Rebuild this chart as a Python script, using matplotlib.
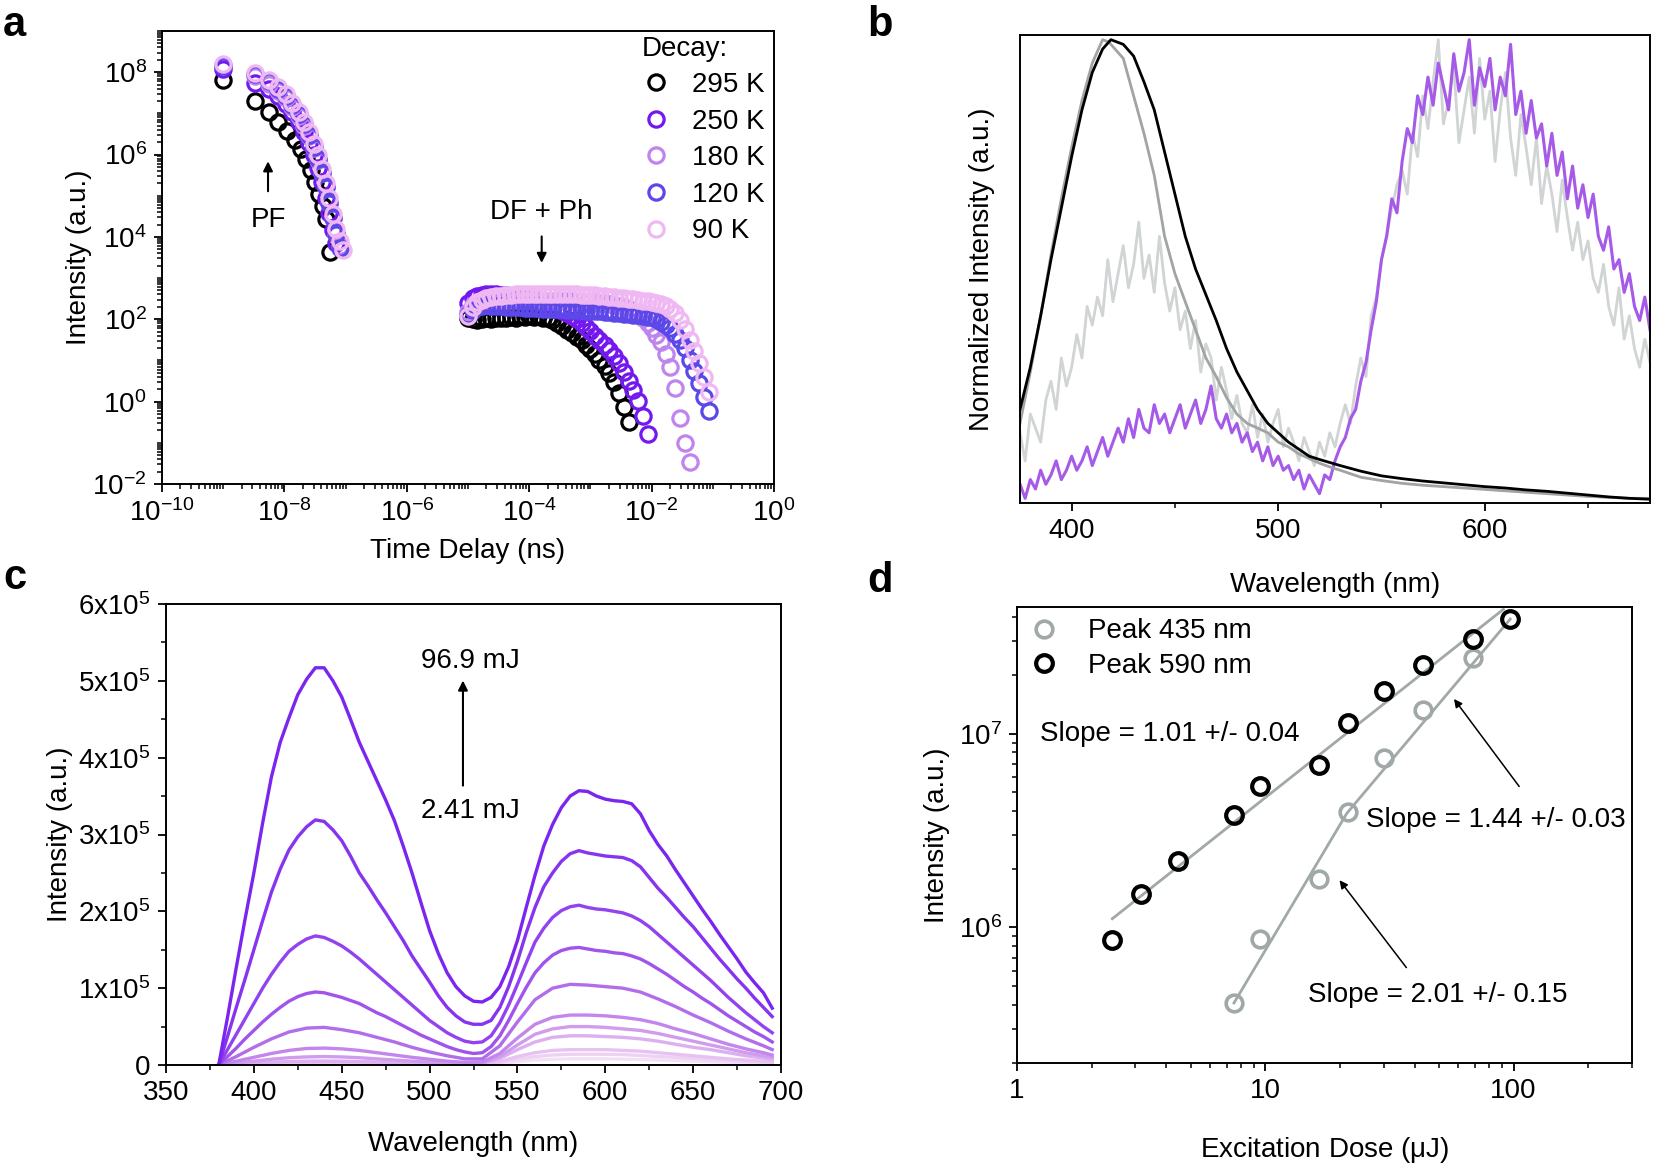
import numpy as np
import matplotlib
matplotlib.use("Agg")
import matplotlib.pyplot as plt
from matplotlib.ticker import LogLocator, MultipleLocator, NullFormatter, LogFormatterMathtext, FixedLocator, FixedFormatter

plt.rcParams['font.family'] = ['Liberation Sans', 'DejaVu Sans']
plt.rcParams['mathtext.default'] = 'regular'
plt.rcParams['axes.unicode_minus'] = False
plt.rcParams['font.size'] = 20

# ---------------- panel a: decay vs temperature ----------------
temps = ['295 K', '250 K', '180 K', '120 K', '90 K']
temp_colors = ['#000000', '#7418f0', '#c084ee', '#5c48e8', '#f0b8f2']

t_pf_295 = [1.0e-9, 3.3e-9, 5.5e-9, 7.8e-9, 1.1e-8, 1.47e-8, 1.86e-8, 2.25e-8, 2.72e-8, 3.2e-8,
            3.7e-8, 4.2e-8, 4.85e-8, 5.65e-8]
t_pf_cold = [1.0e-9, 3.3e-9, 5.5e-9, 7.8e-9, 1.05e-8, 1.35e-8, 1.7e-8, 2.1e-8, 2.5e-8, 3.0e-8,
             3.5e-8, 4.1e-8, 4.7e-8, 5.4e-8, 6.2e-8, 7.1e-8, 8.1e-8, 9.2e-8]
pf_295 = [6.5e7, 2.0e7, 1.1e7, 6.3e6, 3.8e6, 2.3e6, 1.4e6, 7.9e5, 4.1e5, 2.2e5, 1.1e5, 5.7e4, 2.7e4, 4.3e3]
pf_250 = [1.2e8, 5.5e7, 3.8e7, 2.6e7, 1.7e7, 1.05e7, 6.2e6, 3.5e6, 1.9e6, 9.5e5, 4.7e5, 2.1e5, 9.0e4,
          3.8e4, 1.5e4, 7.0e3]
pf_180 = [1.5e8, 8.0e7, 5.2e7, 3.5e7, 2.3e7, 1.45e7, 8.8e6, 5.0e6, 2.8e6, 1.45e6, 7.5e5, 3.5e5, 1.6e5,
          6.8e4, 2.8e4, 1.2e4, 6.0e3]
pf_120 = [1.4e8, 9.0e7, 6.0e7, 4.0e7, 2.6e7, 1.6e7, 9.5e6, 5.5e6, 3.0e6, 1.55e6, 7.8e5, 3.6e5, 1.6e5,
          6.8e4, 2.8e4, 1.2e4, 5.5e3]
pf_90 = [1.6e8, 9.5e7, 6.5e7, 4.4e7, 2.9e7, 1.8e7, 1.1e7, 6.3e6, 3.5e6, 1.85e6, 9.5e5, 4.5e5, 2.0e5,
         8.8e4, 3.7e4, 1.6e4, 8.0e3, 4.8e3]

t_df = [1.0e-5, 1.2e-5, 1.4e-5, 1.7e-5, 2.0e-5, 2.4e-5, 2.9e-5, 3.5e-5, 4.2e-5, 5.0e-5,
        6.0e-5, 7.2e-5, 8.6e-5, 1.0e-4, 1.2e-4, 1.4e-4, 1.7e-4, 2.0e-4, 2.4e-4, 2.9e-4,
        3.5e-4, 4.2e-4, 5.0e-4, 6.0e-4, 7.2e-4, 8.6e-4, 1.0e-3, 1.2e-3, 1.4e-3, 1.7e-3,
        2.0e-3, 2.4e-3, 2.9e-3, 3.5e-3, 4.2e-3, 5.0e-3, 6.0e-3, 7.2e-3, 8.6e-3, 1.0e-2,
        1.2e-2, 1.4e-2, 1.7e-2, 2.0e-2, 2.4e-2, 2.9e-2, 3.5e-2, 4.2e-2, 5.0e-2, 6.0e-2,
        7.2e-2, 8.6e-2, 1.0e-1]
df_295 = [110, 100, 95, 100, 105, 100, 110, 105, 110, 115,
          110, 120, 115, 120, 115, 118, 110, 105, 95, 82,
          68, 56, 46, 38, 31, 24, 19, 14.5, 10.5, 7.5,
          5.0, 3.0, 1.6, 0.75, 0.32]
df_250 = [250, 320, 360, 380, 400, 410, 400, 390, 380, 370,
          360, 350, 330, 300, 280, 260, 240, 220, 200, 180,
          160, 140, 120, 100, 82, 66, 52, 40, 32, 24,
          18, 13, 8.5, 5.2, 3.2, 1.9, 1.05, 0.45, 0.16]
df_180 = [150, 220, 260, 280, 290, 295, 300, 300, 300, 298,
          296, 294, 292, 290, 288, 286, 284, 282, 280, 278,
          276, 274, 272, 270, 268, 265, 262, 258, 254, 248,
          240, 228, 212, 195, 175, 155, 130, 105, 82, 62,
          42, 28, 14, 7, 2.2, 0.4, 0.1, 0.035]
df_120 = [130, 170, 200, 210, 220, 215, 210, 205, 200, 200,
          195, 195, 190, 190, 185, 185, 180, 180, 178, 175,
          175, 172, 170, 168, 165, 162, 160, 158, 155, 152,
          150, 146, 142, 138, 133, 128, 124, 120, 116, 115,
          100, 88, 74, 60, 45, 32, 20, 10.5, 5.5, 2.8,
          1.3, 0.6]
df_90 = [120, 200, 260, 300, 320, 340, 360, 370, 380, 390,
         400, 405, 410, 415, 420, 420, 420, 420, 418, 415,
         412, 410, 405, 400, 395, 390, 385, 378, 370, 362,
         355, 345, 335, 325, 315, 305, 295, 285, 275, 265,
         250, 235, 210, 180, 140, 95, 58, 32, 17, 8.5,
         4.0, 1.7]

# ---------------- panel b: normalised spectra ----------------
wl_b_black = [375, 380, 385, 390, 395, 400, 405, 410, 415, 419, 425, 430, 435, 440, 445, 450, 455, 460,
              465, 470, 475, 480, 485, 490, 495, 500, 505, 510, 515, 520, 530, 540, 550, 560, 570, 580,
              590, 600, 610, 620, 630, 640, 650, 660, 670, 680]
b_black = [0.20, 0.29, 0.40, 0.52, 0.63, 0.74, 0.84, 0.92, 0.97, 0.99, 0.98, 0.955, 0.90, 0.84, 0.75,
           0.66, 0.57, 0.50, 0.445, 0.39, 0.33, 0.28, 0.24, 0.20, 0.17, 0.15, 0.13, 0.115, 0.10, 0.093,
           0.08, 0.068, 0.058, 0.052, 0.047, 0.043, 0.039, 0.035, 0.032, 0.028, 0.025, 0.021, 0.017,
           0.013, 0.010, 0.008]
wl_b_gray = [375, 380, 385, 390, 395, 400, 405, 410, 415, 418, 420, 425, 430, 435, 440, 445, 450, 455,
             460, 465, 470, 475, 480, 485, 490, 495, 500, 505, 510, 515, 520, 525, 530, 540, 550, 560,
             570, 580, 590, 600, 610, 620, 630, 640, 650, 660, 670, 680]
b_gray = [0.17, 0.28, 0.40, 0.53, 0.65, 0.76, 0.86, 0.94, 0.99, 0.985, 0.975, 0.95, 0.87, 0.79, 0.70,
          0.57, 0.49, 0.43, 0.37, 0.31, 0.27, 0.225, 0.19, 0.17, 0.16, 0.15, 0.13, 0.12, 0.105, 0.095,
          0.085, 0.077, 0.07, 0.055, 0.048, 0.042, 0.038, 0.035, 0.032, 0.029, 0.026, 0.023, 0.020,
          0.017, 0.014, 0.012, 0.010, 0.010]
wl_b_noisy = np.arange(375, 681, 2.5)
b_lightgray = [0.15, 0.09, 0.19, 0.16, 0.13, 0.22, 0.26, 0.20, 0.31, 0.25,
               0.29, 0.36, 0.31, 0.42, 0.38, 0.44, 0.40, 0.52, 0.43, 0.49,
               0.55, 0.46, 0.51, 0.60, 0.48, 0.53, 0.45, 0.57, 0.47, 0.41,
               0.46, 0.37, 0.41, 0.33, 0.39, 0.28, 0.34, 0.31, 0.22, 0.29,
               0.24, 0.18, 0.23, 0.17, 0.15, 0.21, 0.14, 0.19, 0.13, 0.17,
               0.20, 0.12, 0.16, 0.13, 0.09, 0.14, 0.11, 0.08, 0.13, 0.10,
               0.15, 0.12, 0.17, 0.21, 0.17, 0.25, 0.31, 0.27, 0.40, 0.44,
               0.52, 0.57, 0.63, 0.68, 0.71, 0.66, 0.79, 0.74, 0.87, 0.80,
               0.90, 0.99, 0.81, 0.86, 0.93, 0.77, 0.84, 0.91, 0.79, 0.95,
               0.82, 0.88, 0.73, 0.84, 0.92, 0.78, 0.70, 0.83, 0.76, 0.68,
               0.78, 0.64, 0.72, 0.66, 0.58, 0.69, 0.61, 0.54, 0.60, 0.52,
               0.56, 0.48, 0.45, 0.51, 0.42, 0.38, 0.46, 0.35, 0.40, 0.33,
               0.29, 0.35, 0.30]
b_purple = [0.04, 0.01, 0.05, 0.03, 0.07, 0.04, 0.06, 0.09, 0.05, 0.07,
            0.10, 0.07, 0.09, 0.12, 0.08, 0.11, 0.14, 0.10, 0.13, 0.16,
            0.13, 0.18, 0.14, 0.20, 0.16, 0.15, 0.21, 0.17, 0.19, 0.15,
            0.18, 0.21, 0.16, 0.19, 0.22, 0.17, 0.20, 0.25, 0.18, 0.16,
            0.19, 0.15, 0.17, 0.13, 0.15, 0.11, 0.13, 0.09, 0.12, 0.08,
            0.10, 0.07, 0.08, 0.05, 0.07, 0.03, 0.06, 0.04, 0.02, 0.06,
            0.05, 0.09, 0.12, 0.14, 0.18, 0.20, 0.26, 0.30, 0.37, 0.43,
            0.52, 0.57, 0.65, 0.62, 0.73, 0.80, 0.77, 0.87, 0.83, 0.91,
            0.85, 0.94, 0.89, 0.84, 0.96, 0.88, 0.92, 0.99, 0.85, 0.93,
            0.89, 0.95, 0.84, 0.91, 0.87, 0.98, 0.83, 0.88, 0.79, 0.86,
            0.78, 0.81, 0.72, 0.79, 0.70, 0.75, 0.65, 0.72, 0.63, 0.68,
            0.61, 0.66, 0.57, 0.54, 0.59, 0.50, 0.52, 0.45, 0.49, 0.42,
            0.39, 0.44, 0.37]

# ---------------- panel c: spectra vs excitation dose (units of 1e5) ----------------
# low-dose spectra, 10 nm sampling
wl_c = [380, 390, 400, 410, 420, 430, 440, 450, 460, 470, 480, 490, 500, 510, 520, 530, 540,
        550, 560, 570, 580, 590, 600, 610, 620, 630, 640, 650, 660, 670, 680, 690, 695]
spectra_c_low = [
    [0, 0.002, 0.004, 0.005, 0.006, 0.007, 0.007, 0.007, 0.006, 0.005, 0.005, 0.004, 0.003, 0.003, 0.003,
     0.005, 0.018, 0.043, 0.065, 0.075, 0.08, 0.08, 0.08, 0.077, 0.072, 0.065, 0.057, 0.05, 0.042, 0.035,
     0.028, 0.022, 0.018],
    [0, 0.003, 0.006, 0.009, 0.012, 0.013, 0.013, 0.012, 0.011, 0.01, 0.008, 0.006, 0.005, 0.004, 0.004,
     0.008, 0.03, 0.075, 0.11, 0.13, 0.14, 0.14, 0.14, 0.135, 0.125, 0.11, 0.10, 0.085, 0.07, 0.057,
     0.045, 0.035, 0.03],
    [0, 0.005, 0.01, 0.015, 0.02, 0.022, 0.022, 0.02, 0.018, 0.016, 0.013, 0.01, 0.008, 0.006, 0.006,
     0.012, 0.045, 0.11, 0.16, 0.19, 0.20, 0.20, 0.20, 0.19, 0.18, 0.16, 0.14, 0.12, 0.10, 0.08, 0.065,
     0.05, 0.04],
    [0, 0.012, 0.025, 0.037, 0.045, 0.05, 0.052, 0.05, 0.045, 0.04, 0.033, 0.026, 0.02, 0.014, 0.012,
     0.02, 0.085, 0.20, 0.30, 0.36, 0.38, 0.38, 0.37, 0.36, 0.34, 0.31, 0.27, 0.23, 0.20, 0.16, 0.12,
     0.09, 0.075],
    [0, 0.025, 0.05, 0.075, 0.095, 0.105, 0.11, 0.105, 0.095, 0.08, 0.065, 0.05, 0.038, 0.025, 0.018,
     0.025, 0.11, 0.26, 0.40, 0.47, 0.50, 0.50, 0.49, 0.47, 0.45, 0.41, 0.36, 0.31, 0.26, 0.21, 0.16,
     0.12, 0.10],
    [0, 0.05, 0.10, 0.15, 0.19, 0.215, 0.22, 0.21, 0.19, 0.16, 0.13, 0.10, 0.075, 0.05, 0.035, 0.04,
     0.15, 0.35, 0.53, 0.62, 0.65, 0.65, 0.64, 0.62, 0.59, 0.54, 0.47, 0.41, 0.34, 0.27, 0.21, 0.16, 0.13],
    [0, 0.11, 0.23, 0.34, 0.43, 0.48, 0.49, 0.46, 0.42, 0.36, 0.30, 0.23, 0.17, 0.12, 0.08, 0.08, 0.25,
     0.56, 0.85, 1.00, 1.05, 1.04, 1.02, 1.00, 0.95, 0.86, 0.76, 0.65, 0.55, 0.44, 0.34, 0.25, 0.20],
]
# high-dose spectra, 5 nm sampling
wl_c5 = np.arange(380, 696, 5)
spectra_c_high = [
    [0, 0.11, 0.22, 0.34, 0.45, 0.56, 0.66, 0.75, 0.83, 0.89,
     0.93, 0.95, 0.94, 0.91, 0.88, 0.84, 0.80, 0.74, 0.68, 0.63,
     0.57, 0.51, 0.45, 0.39, 0.34, 0.29, 0.24, 0.20, 0.17, 0.15,
     0.16, 0.24, 0.38, 0.58, 0.80, 1.01, 1.20, 1.33, 1.43, 1.49,
     1.52, 1.53, 1.51, 1.49, 1.48, 1.46, 1.45, 1.42, 1.38, 1.32,
     1.25, 1.18, 1.10, 1.02, 0.95, 0.87, 0.80, 0.72, 0.64, 0.57,
     0.50, 0.43, 0.37, 0.30],
    [0, 0.20, 0.40, 0.60, 0.80, 1.00, 1.18, 1.34, 1.48, 1.57,
     1.64, 1.68, 1.66, 1.61, 1.55, 1.47, 1.38, 1.28, 1.18, 1.08,
     0.98, 0.88, 0.78, 0.68, 0.58, 0.50, 0.42, 0.36, 0.31, 0.29,
     0.30, 0.38, 0.55, 0.78, 1.05, 1.33, 1.60, 1.78, 1.92, 2.01,
     2.06, 2.08, 2.05, 2.03, 2.02, 2.00, 1.98, 1.94, 1.88, 1.80,
     1.70, 1.60, 1.50, 1.40, 1.30, 1.20, 1.10, 0.99, 0.88, 0.78,
     0.68, 0.59, 0.50, 0.42],
    [0, 0.37, 0.75, 1.12, 1.50, 1.88, 2.25, 2.55, 2.80, 2.97,
     3.10, 3.19, 3.17, 3.06, 2.92, 2.72, 2.50, 2.33, 2.15, 1.98,
     1.80, 1.62, 1.42, 1.25, 1.08, 0.90, 0.75, 0.64, 0.56, 0.53,
     0.53, 0.58, 0.75, 1.02, 1.35, 1.72, 2.05, 2.32, 2.50, 2.65,
     2.75, 2.79, 2.76, 2.74, 2.72, 2.71, 2.70, 2.66, 2.58, 2.44,
     2.30, 2.18, 2.05, 1.92, 1.80, 1.66, 1.52, 1.38, 1.25, 1.12,
     1.00, 0.87, 0.75, 0.63],
    [0, 0.62, 1.27, 1.90, 2.50, 3.15, 3.75, 4.20, 4.52, 4.82,
     5.02, 5.17, 5.17, 5.00, 4.79, 4.50, 4.20, 3.95, 3.70, 3.45,
     3.18, 2.85, 2.50, 2.12, 1.75, 1.45, 1.20, 1.02, 0.90, 0.83,
     0.82, 0.88, 1.02, 1.28, 1.62, 2.05, 2.47, 2.85, 3.13, 3.35,
     3.50, 3.57, 3.56, 3.50, 3.46, 3.44, 3.43, 3.40, 3.27, 3.05,
     2.87, 2.72, 2.54, 2.37, 2.20, 2.03, 1.87, 1.70, 1.54, 1.38,
     1.21, 1.07, 0.94, 0.74],
]
colors_c_low = ['#f4e0f6', '#eed2f4', '#e6c2f2', '#dcb0f0', '#d09cee', '#c286ec', '#b26eea']
colors_c_high = ['#a054ec', '#9242ee', '#8634f0', '#7a26f0']
c_ticklabels = ['0', '1x10$^5$', '2x10$^5$', '3x10$^5$', '4x10$^5$', '5x10$^5$', '6x10$^5$']

# ---------------- panel d: peak intensity vs dose ----------------
dose_590 = [2.41, 3.15, 4.45, 7.5, 9.5, 16.4, 21.5, 30.0, 43.3, 68.5, 96.9]
peak_590 = [8.6e5, 1.49e6, 2.2e6, 3.79e6, 5.36e6, 6.9e6, 1.13e7, 1.66e7, 2.27e7, 3.07e7, 3.91e7]
dose_435 = [7.5, 9.5, 16.4, 21.5, 30.0, 43.3, 68.5]
peak_435 = [4.08e5, 8.75e5, 1.78e6, 3.96e6, 7.48e6, 1.32e7, 2.47e7]
fit590_x = [2.42, 91.0]
fit590_y = [1.11e6, 4.38e7]
fit435_x = [7.48, 21.3, 97.0]
fit435_y = [4.08e5, 3.88e6, 3.9e7]

W, H = 1654, 1165
fig = plt.figure(figsize=(W / 100, H / 100), dpi=100)


def box(l, t, r, b):
    return [l / W, 1 - b / H, (r - l) / W, (b - t) / H]


def style(ax):
    for s in ax.spines.values():
        s.set_linewidth(1.4)
    ax.tick_params(which='major', direction='out', length=6, width=1.3, labelsize=20, pad=5)
    ax.tick_params(which='minor', direction='out', length=3.5, width=1.1)
    ax.tick_params(top=False, right=False)


# ---- a ----
axa = fig.add_axes(box(162, 31, 774, 484))
pf_sets = [(t_pf_295, pf_295), (t_pf_cold[:16], pf_250), (t_pf_cold[:17], pf_180),
           (t_pf_cold[:17], pf_120), (t_pf_cold, pf_90)]
df_sets = [df_295, df_250, df_180, df_120, df_90]
for name, col, (tp, ip), idf in zip(temps, temp_colors, pf_sets, df_sets):
    kw = dict(ls='none', marker='o', ms=11, mfc='none', mec=col, mew=2.3)
    axa.plot(tp, ip, label=name, **kw)
    axa.plot(t_df[:len(idf)], idf, **kw)
axa.set_xscale('log')
axa.set_yscale('log')
axa.set_xlim(1e-10, 1)
axa.set_ylim(1e-2, 1e9)
axa.xaxis.set_major_locator(FixedLocator([1e-10, 1e-8, 1e-6, 1e-4, 1e-2, 1]))
axa.xaxis.set_major_formatter(LogFormatterMathtext())
axa.xaxis.set_minor_locator(LogLocator(base=10, subs=np.arange(1, 10), numticks=100))
axa.xaxis.set_minor_formatter(NullFormatter())
axa.yaxis.set_major_locator(FixedLocator([1e-2, 1, 1e2, 1e4, 1e6, 1e8]))
axa.yaxis.set_major_formatter(LogFormatterMathtext())
axa.yaxis.set_minor_locator(LogLocator(base=10, subs=np.arange(1, 10), numticks=100))
axa.yaxis.set_minor_formatter(NullFormatter())
style(axa)
axa.set_xlabel('Time Delay (ns)', fontsize=20, labelpad=8)
axa.set_ylabel('Intensity (a.u.)', fontsize=20, labelpad=0)
axa.text(5.5e-9, 2.6e4, 'PF', fontsize=20, ha='center', va='center')
axa.annotate('', xy=(5.4e-9, 8e5), xytext=(5.4e-9, 1.1e5),
             arrowprops=dict(arrowstyle='-|>', color='k', lw=1.5, mutation_scale=14))
axa.text(1.6e-4, 4e4, 'DF + Ph', fontsize=20, ha='center', va='center')
axa.annotate('', xy=(1.6e-4, 2.0e3), xytext=(1.6e-4, 1.2e4),
             arrowprops=dict(arrowstyle='-|>', color='k', lw=1.5, mutation_scale=14))
axa.legend(loc='upper left', bbox_to_anchor=(0.784, 0.99), frameon=False, title='Decay:',
           title_fontsize=20, fontsize=20, alignment='left', borderpad=0, borderaxespad=0,
           handlelength=1.0, handletextpad=0.8, labelspacing=0.38)

# ---- b ----
axb = fig.add_axes(box(1020, 35, 1650, 503))
axb.plot(wl_b_noisy, b_lightgray, color='#d0d4d4', lw=2.0)
axb.plot(wl_b_noisy, b_purple, color='#a65ae8', lw=2.2)
axb.plot(wl_b_gray, b_gray, color='#a0a4a4', lw=2.0)
axb.plot(wl_b_black, b_black, color='#000000', lw=2.0)
axb.set_xlim(375, 680)
axb.set_ylim(0, 1)
axb.xaxis.set_major_locator(MultipleLocator(100))
axb.xaxis.set_minor_locator(MultipleLocator(50))
axb.set_yticks([])
style(axb)
axb.set_xlabel('Wavelength (nm)', fontsize=20, labelpad=20)
axb.set_ylabel('Normalized Intensity (a.u.)', fontsize=20, labelpad=18)

# ---- c ----
axc = fig.add_axes(box(166, 604, 781, 1065))
for spec, col in zip(spectra_c_low, colors_c_low):
    axc.plot(wl_c, spec, color=col, lw=2.4)
for spec, col in zip(spectra_c_high, colors_c_high):
    axc.plot(wl_c5, spec, color=col, lw=2.4)
axc.set_xlim(350, 700)
axc.set_ylim(0, 6)
axc.xaxis.set_major_locator(MultipleLocator(50))
axc.xaxis.set_minor_locator(MultipleLocator(25))
axc.yaxis.set_major_locator(FixedLocator([0, 1, 2, 3, 4, 5, 6]))
axc.yaxis.set_major_formatter(FixedFormatter(c_ticklabels))
axc.yaxis.set_minor_locator(MultipleLocator(0.5))
style(axc)
axc.set_xlabel('Wavelength (nm)', fontsize=20, labelpad=18)
axc.set_ylabel('Intensity (a.u.)', fontsize=20, labelpad=4)
axc.text(523, 5.26, '96.9 mJ', fontsize=20, ha='center', va='center')
axc.text(523, 3.3, '2.41 mJ', fontsize=20, ha='center', va='center')
axc.annotate('', xy=(519, 5.04), xytext=(519, 3.6),
             arrowprops=dict(arrowstyle='-|>', color='k', lw=1.5, mutation_scale=14))

# ---- d ----
axd = fig.add_axes(box(1017, 607, 1632, 1063))
axd.plot(fit590_x, fit590_y, color='#a0a8a8', lw=2.0)
axd.plot(fit435_x, fit435_y, color='#a0a8a8', lw=2.0)
axd.plot(dose_435, peak_435, ls='none', marker='o', ms=12, mfc='none', mec='#a0a8a8', mew=2.6,
         label='Peak 435 nm')
axd.plot(dose_590, peak_590, ls='none', marker='o', ms=12, mfc='none', mec='#000000', mew=3.0,
         label='Peak 590 nm')
axd.set_xscale('log')
axd.set_yscale('log')
axd.set_xlim(1, 300)
axd.set_ylim(2e5, 4.5e7)
axd.xaxis.set_major_locator(FixedLocator([1, 10, 100]))
axd.xaxis.set_major_formatter(FixedFormatter(['1', '10', '100']))
axd.xaxis.set_minor_locator(LogLocator(base=10, subs=np.arange(2, 10), numticks=100))
axd.xaxis.set_minor_formatter(NullFormatter())
axd.yaxis.set_major_locator(FixedLocator([1e6, 1e7]))
axd.yaxis.set_major_formatter(LogFormatterMathtext())
axd.yaxis.set_minor_locator(LogLocator(base=10, subs=np.arange(2, 10), numticks=100))
axd.yaxis.set_minor_formatter(NullFormatter())
style(axd)
axd.set_xlabel('Excitation Dose ($\\mu$J)', fontsize=20, labelpad=22)
axd.set_ylabel('Intensity (a.u.)', fontsize=20, labelpad=6)
axd.legend(loc='upper left', bbox_to_anchor=(0.021, 0.975), frameon=False, fontsize=20,
           borderpad=0, borderaxespad=0, handlelength=1.0, handletextpad=1.1, labelspacing=0.3)
axd.text(1.24, 1.0e7, 'Slope = 1.01 +/- 0.04', fontsize=20, ha='left', va='center')
axd.text(25.4, 3.6e6, 'Slope = 1.44 +/- 0.03', fontsize=20, ha='left', va='center')
axd.text(14.8, 4.47e5, 'Slope = 2.01 +/- 0.15', fontsize=20, ha='left', va='center')
axd.annotate('', xy=(56.7, 1.55e7), xytext=(107, 5.2e6),
             arrowprops=dict(arrowstyle='-|>', color='k', lw=1.1, mutation_scale=12))
axd.annotate('', xy=(19.6, 1.8e6), xytext=(37.6, 6.05e5),
             arrowprops=dict(arrowstyle='-|>', color='k', lw=1.1, mutation_scale=12))

# panel letters
for lab, x, y in [('a', 3, 36), ('b', 867, 36), ('c', 3, 589), ('d', 867, 592)]:
    fig.text(x / W, 1 - y / H, lab, fontsize=30, fontweight='bold', ha='left', va='baseline')

fig.savefig('out.png', dpi=100)
